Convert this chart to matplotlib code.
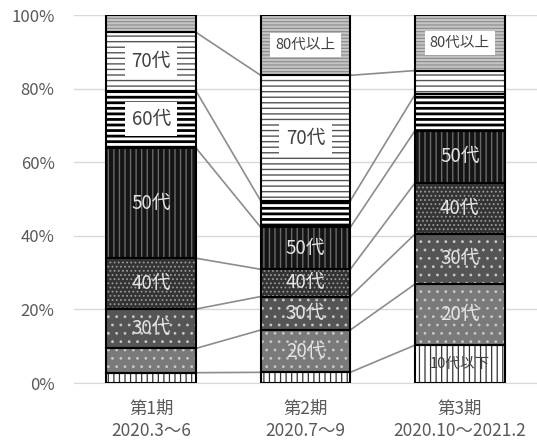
import numpy as np
import matplotlib
matplotlib.use("Agg")
import matplotlib.pyplot as plt

plt.rcParams['font.family'] = ['Noto Sans CJK JP', 'DejaVu Sans']

# 年代別の構成比（%）
periods = ["第1期\n2020.3～6", "第2期\n2020.7～9", "第3期\n2020.10～2021.2"]
ages = ["10代以下", "20代", "30代", "40代", "50代", "60代", "70代", "80代以上"]
period1 = [2.8, 6.6, 10.7, 13.8, 30.0, 15.5, 15.9, 4.7]
period2 = [2.9, 11.5, 9.1, 7.4, 11.4, 7.2, 34.1, 16.4]
period3 = [10.3, 16.6, 13.6, 13.9, 14.2, 9.8, 6.5, 15.1]

# 表示するラベル（None は非表示）
labels1 = [None, None, "30代", "40代", "50代", "60代", "70代", None]
labels2 = [None, "20代", "30代", "40代", "50代", None, "70代", "80代以上"]
labels3 = ["10代以下", "20代", "30代", "40代", "50代", None, None, "80代以上"]

# 塗り: (背景色, ハッチ, ハッチ色, ハッチ線幅)
styles = [
    ("white", "|||", "#333333", 0.9),
    ("#7a7a7a", "..", "#c8c8c8", 0.8),
    ("#555555", "..", "#c8c8c8", 0.8),
    ("#333333", "....", "#9a9a9a", 0.8),
    ("#141414", "|||", "#6a6a6a", 1.0),
    ("white", "---", "#000000", 2.0),
    ("white", "---", "#555555", 1.0),
    ("#c4c4c4", "-----", "#8a8a8a", 0.8),
]
# ラベルの書き方: "box" = 白枠, "white" = 白文字, "dark" = 濃い文字
label_kind = ["dark", "white", "white", "white", "white", "box", "box", "box"]

data = np.array([period1, period2, period3])
all_labels = [labels1, labels2, labels3]
x = np.arange(len(periods))
width = 0.58

fig = plt.figure(figsize=(5.37, 4.48), dpi=100)
ax = fig.add_axes([74 / 537, 1 - 383 / 448, 1 - 74 / 537, 368 / 448])

bottoms = np.zeros(len(periods))
for j, age in enumerate(ages):
    fc, hatch, hc, hlw = styles[j]
    vals = data[:, j]
    bars = ax.bar(x, vals, width, bottom=bottoms, color=fc, hatch=hatch,
                  edgecolor=hc, linewidth=0, zorder=2)
    for b in bars:
        if hasattr(b, "set_hatch_linewidth"):
            b.set_hatch_linewidth(hlw)
    ax.bar(x, vals, width, bottom=bottoms, facecolor="none",
           edgecolor="black", linewidth=1.5, zorder=3)
    for i in range(len(periods)):
        text = all_labels[i][j]
        if text is None:
            continue
        yc = bottoms[i] + vals[i] / 2
        small = "以" in text
        fs = 10.5 if small else 13.5
        kind = label_kind[j]
        if kind == "box":
            ax.text(x[i], yc, text, ha="center", va="center", fontsize=fs,
                    color="#404040", zorder=5,
                    bbox=dict(boxstyle="square,pad=0.35", fc="white", ec="none"))
        elif kind == "white":
            ax.text(x[i], yc, text, ha="center", va="center", fontsize=fs,
                    color="#e4e4e4", zorder=5)
        else:
            ax.text(x[i], yc, text, ha="center", va="center", fontsize=fs,
                    color="#404040", zorder=5)
    bottoms = bottoms + vals

# 期間の間の区分線
cum = np.cumsum(data, axis=1)
for j in range(len(ages) - 1):
    for i in range(len(periods) - 1):
        ax.plot([x[i] + width / 2, x[i + 1] - width / 2], [cum[i, j], cum[i + 1, j]],
                color="#8c8c8c", linewidth=1.2, zorder=1)

ax.set_ylim(0, 100)
ax.set_xlim(-0.5, 2.5)
ax.set_yticks(np.arange(0, 101, 20))
ax.set_yticklabels([f"{v}%" for v in range(0, 101, 20)])
ax.set_xticks(x)
ax.set_xticklabels(periods, linespacing=1.3)
ax.grid(axis="y", color="#d9d9d9", linewidth=1, zorder=0)
ax.set_axisbelow(True)
for s in ["top", "right", "left"]:
    ax.spines[s].set_visible(False)
ax.spines["bottom"].set_color("#d9d9d9")
ax.tick_params(axis="y", length=0, labelsize=12, colors="#595959", pad=14)
ax.tick_params(axis="x", length=0, labelsize=12.5, colors="#595959", pad=12)

fig.savefig("out.png", dpi=100)
